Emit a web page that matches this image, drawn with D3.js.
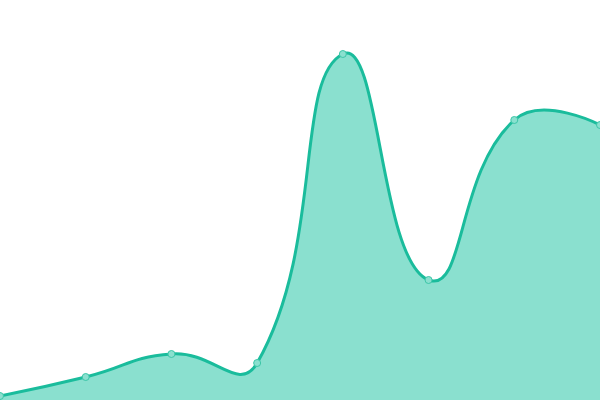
<!DOCTYPE html>
<html><head><meta charset="utf-8">
<script src="https://cdn.jsdelivr.net/npm/d3@7"></script>
<style>html,body{margin:0;padding:0;background:#fff;}svg{display:block;}</style>
</head><body>
<svg id="c" width="600" height="400"></svg>
<script>
const categories = ["A","B","C","D","E","F","G","H"];
const values = [4, 23, 46, 37, 346, 120, 280, 275];

const W = 600, H = 400;
const svg = d3.select("#c");
const x = d3.scalePoint().domain(categories).range([0, W]);
const y = d3.scaleLinear().domain([0, 400]).range([H, 0]);
const data = categories.map((c, i) => ({c, v: values[i]}));

// Smooth curve factory (distance-weighted bezier smoothing, factor 0.5)
function SmoothCurve(context) { this._context = context; }
SmoothCurve.prototype = {
  areaStart() { this._line = 0; },
  areaEnd() { this._line = NaN; },
  lineStart() { this._pts = []; },
  point(px, py) { this._pts.push([+px, +py]); },
  lineEnd() {
    const p = this._pts, n = p.length, c = this._context, s = 0.5;
    if (n) {
      this._line ? c.lineTo(p[0][0], p[0][1]) : c.moveTo(p[0][0], p[0][1]);
      let cx0 = p[0][0], cy0 = p[0][1];
      for (let i = 1; i < n; i++) {
        const [xx, yy] = p[i], [qx, qy] = p[i - 1];
        let vx = 0, vy = 0, r = 0.5, ncx, ncy;
        if (i >= n - 1) { ncx = xx; ncy = yy; }
        else {
          const [nx, ny] = p[i + 1];
          vx = nx - qx; vy = ny - qy;
          const l0 = Math.hypot(xx - qx, yy - qy), l1 = Math.hypot(nx - xx, ny - yy);
          r = (l0 + l1) > 0 ? l1 / (l0 + l1) : 0.5;
          ncx = xx - vx * s * (1 - r); ncy = yy - vy * s * (1 - r);
        }
        c.bezierCurveTo(cx0, cy0, ncx, ncy, xx, yy);
        cx0 = xx + vx * s * r; cy0 = yy + vy * s * r;
      }
    }
    if (this._line || (this._line !== 0 && n === 1)) c.closePath();
    this._line = 1 - this._line;
  }
};
const curve = ctx => new SmoothCurve(ctx);

svg.append("path").datum(data)
  .attr("fill", "#8ae0cf")
  .attr("d", d3.area().x(d => x(d.c)).y0(H).y1(d => y(d.v)).curve(curve));
svg.append("path").datum(data)
  .attr("fill", "none").attr("stroke", "#1abc9c").attr("stroke-width", 3)
  .attr("d", d3.line().x(d => x(d.c)).y(d => y(d.v)).curve(curve));
svg.selectAll("circle").data(data).join("circle")
  .attr("cx", d => x(d.c)).attr("cy", d => y(d.v)).attr("r", 3.5)
  .attr("fill", "#8ae0cf").attr("stroke", "#3cc6a8").attr("stroke-width", 1);
</script>
</body></html>
